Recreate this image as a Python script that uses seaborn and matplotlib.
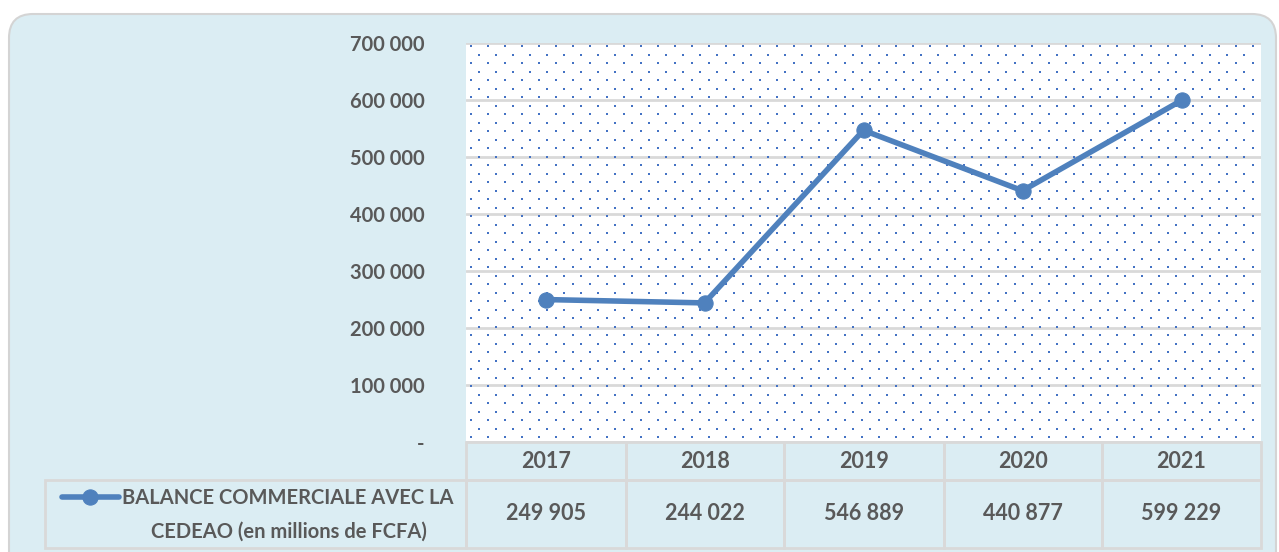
import numpy as np
import matplotlib
matplotlib.use("Agg")
import matplotlib.pyplot as plt
import matplotlib.patches as mpatches
import matplotlib.transforms as mtransforms
import seaborn as sns

years = ["2017", "2018", "2019", "2020", "2021"]
balance = [249905, 244022, 546889, 440877, 599229]
label_l1 = "BALANCE COMMERCIALE AVEC LA"
label_l2 = "CEDEAO (en millions de FCFA)"
yticks = [0, 100000, 200000, 300000, 400000, 500000, 600000, 700000]

sns.set_theme(style="white")
plt.rcParams["font.family"] = ["Lato", "DejaVu Sans"]

TXT = "#595959"
LINE = "#4F81BD"
GRID = "#D9D9D9"
BG = "#DBEDF3"


def fmt(v):
    if v == 0:
        return "-"
    return f"{v:,}".replace(",", " ")


W, H = 1279, 552
fig = plt.figure(figsize=(W / 100, H / 100), dpi=100)
fig.patch.set_facecolor("white")

# rounded light-blue panel
panel = mpatches.FancyBboxPatch((9, -40), 1267, 538 + 40, boxstyle="round,pad=0,rounding_size=24",
                                facecolor=BG, edgecolor="#D4D4D4", lw=1.5,
                                transform=mtransforms.IdentityTransform(), zorder=0)
fig.add_artist(panel)

ax = fig.add_axes([466 / W, 1 - 442 / H, 795 / W, 399 / H])
ax.set_facecolor("white")

# dotted texture of the plot area (two alternating row styles)
gx = np.arange(0.006, 1.0, 17 / 795)
gy = np.arange(0.012, 1.0, 8.5 / 399)
for parity, size in [(0, 4.5), (1, 2.2)]:
    px, py = [], []
    for i, yy in enumerate(gy):
        if i % 2 != parity:
            continue
        xs = gx if parity == 0 else gx + 8.5 / 795
        xs = xs[xs < 1.0]
        px.extend(xs)
        py.extend([yy] * len(xs))
    ax.scatter(px, py, s=size, marker="s", color="#4472C4", linewidths=0,
               transform=ax.transAxes, zorder=1)

sns.lineplot(x=years, y=balance, ax=ax, color=LINE, lw=4, marker="o", markersize=11,
             markeredgecolor=LINE, label=label_l1, zorder=3, sort=False)

ax.set_xlim(-0.5, 4.5)
ax.set_ylim(0, 700000)
ax.set_yticks(yticks)
ax.set_yticklabels([fmt(v) for v in yticks])
ax.set_xticks([])
ax.set_xlabel("")
ax.set_ylabel("")
for s in ax.spines.values():
    s.set_visible(False)
ax.yaxis.grid(True, color=GRID, lw=2)
for gl in ax.get_ygridlines():
    gl.set_zorder(2)
ax.tick_params(axis="y", length=0, pad=30, labelsize=14.5, labelcolor=TXT)
for t in ax.get_yticklabels():
    t.set_fontweight("bold")

# data table under the chart
cells = [[""] + years, [""] + [fmt(v) for v in balance]]
widths = [421, 160, 158, 160, 158, 159]
tab = ax.table(cellText=cells, colWidths=[w / sum(widths) for w in widths],
               cellLoc="center", bbox=[-421 / 795, -106 / 399, 1216 / 795, 106 / 399])
tab.auto_set_font_size(False)
for (r, c), cell in tab.get_celld().items():
    cell.set_height(38 if r == 0 else 68)
    cell.set_facecolor("none")
    cell.set_edgecolor(GRID)
    cell.set_linewidth(2)
    cell.get_text().set_fontsize(15.5)
    cell.get_text().set_fontweight("bold")
    cell.get_text().set_color(TXT)
    if r == 0 and c == 0:
        cell.visible_edges = ""

# legend key sits in the table's label cell
leg = ax.legend(loc="center left", bbox_to_anchor=(44 / W, 1 - 498 / H), bbox_transform=fig.transFigure,
                frameon=False, handlelength=2.8, handletextpad=0.15,
                prop={"weight": "bold", "size": 14.5})
for t in leg.get_texts():
    t.set_color(TXT)
fig.text(289 / W, 1 - 532 / H, label_l2, ha="center", va="center",
         fontsize=14.5, fontweight="bold", color=TXT)

fig.savefig("out.png", dpi=100, facecolor="white")
